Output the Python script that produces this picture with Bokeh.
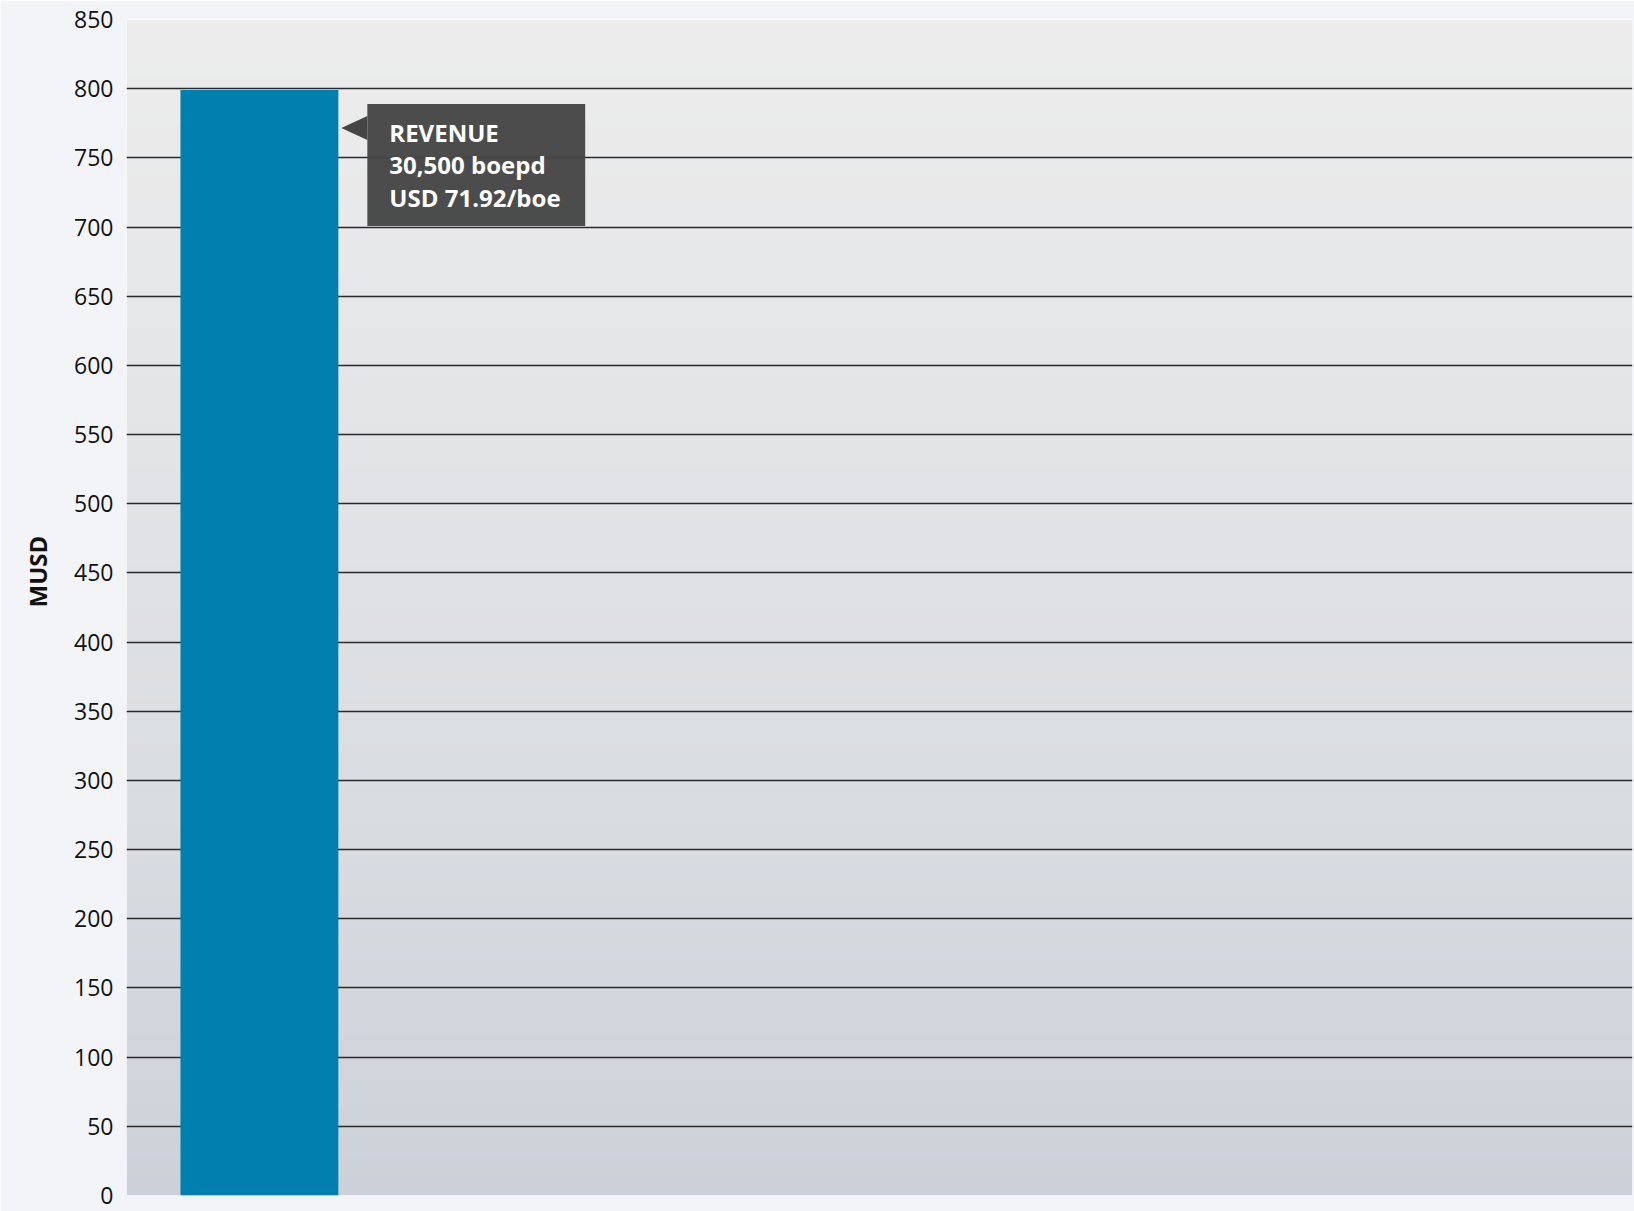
import numpy as np
from bokeh.plotting import figure
from bokeh.models import Range1d, SingleIntervalTicker, Title
from bokeh.core.properties import value
from bokeh.embed import file_html
from bokeh.resources import INLINE

# ---- data ----
categories = ["Revenue"]
values = [799]
annotation_lines = ["REVENUE", "30,500 boepd", "USD 71.92/boe"]
y_axis_label = "MUSD"
y_max = 850
y_step = 50

# ---- layout ----
W, H = 1634, 1211
BL, BR, BT, BB = 125, 2, 19, 16
frame_w = W - BL - BR
frame_h = H - BT - BB
bar_px = 158.0
left_gap_px = 54.0
x_start = -0.5 - left_gap_px / bar_px
x_end = x_start + frame_w / bar_px
px_x = bar_px            # px per x unit
px_y = frame_h / y_max   # px per y unit

p = figure(width=W, height=H, output_backend="svg", toolbar_location=None,
           x_range=Range1d(x_start, x_end), y_range=Range1d(0, y_max),
           min_border_left=BL, min_border_right=BR, min_border_top=BT, min_border_bottom=BB)

p.border_fill_color = "#f3f4f7"
p.outline_line_color = None
p.xaxis.visible = False
p.xgrid.visible = False

# background gradient of plot area
N = 256
img = np.empty((N, 1), dtype=np.uint32)
view = img.view(dtype=np.uint8).reshape((N, 1, 4))
top = np.array([0xED, 0xED, 0xED])
bot = np.array([0xCC, 0xD1, 0xD9])
for i in range(N):
    t = i / (N - 1)  # 0 bottom -> 1 top
    c = bot + (top - bot) * (t ** 0.8)
    view[i, 0, 0:3] = c.astype(np.uint8)
    view[i, 0, 3] = 255
p.image_rgba(image=[img], x=x_start, y=0, dw=x_end - x_start, dh=y_max, level="image")

# y axis
ax = p.yaxis[0]
ax.ticker = SingleIntervalTicker(interval=y_step)
ax.axis_line_color = None
ax.major_tick_line_color = None
ax.minor_tick_line_color = None
ax.major_label_standoff = 7
ax.major_label_text_font = "Open Sans"
ax.major_label_text_font_size = "23px"
ax.major_label_text_color = "#111111"

# axis title as a side title (allows shifting along the axis)
ytitle = Title(text=y_axis_label, align="left", offset=588, standoff=36,
               text_font="Open Sans", text_font_style="bold", text_font_size="24px",
               text_color="#111111")
p.add_layout(ytitle, "left")

p.ygrid.grid_line_color = "#2a2a2a"
p.ygrid.grid_line_width = 1.4
p.ygrid[0].ticker = SingleIntervalTicker(interval=y_step)

# bars
xs = list(range(len(categories)))
p.vbar(x=xs, top=values, width=1.0, bottom=0, fill_color="#0080AE", line_color=None)

# annotation box next to the first bar
bx_right = xs[0] + 0.5
v = values[0]
gap_px, tri_w_px, tri_half_px = 3, 26, 12
tip_x = bx_right + gap_px / px_x
base_x = tip_x + tri_w_px / px_x
tri_y = v - 38 / px_y
box_top = v - 14 / px_y
box_bot = box_top - 122 / px_y
box_right = base_x + 218 / px_x
p.quad(left=[base_x], right=[box_right], top=[box_top], bottom=[box_bot],
       fill_color="#454545", fill_alpha=0.96, line_color=None)
p.patch(x=[tip_x, base_x, base_x], y=[tri_y, tri_y + tri_half_px / px_y, tri_y - tri_half_px / px_y],
        fill_color="#454545", line_color=None)
p.text(x=[base_x + 22 / px_x], y=[box_top - 12 / px_y], text=["\n".join(annotation_lines)],
       text_font=value("Open Sans"), text_font_style="bold", text_font_size="24px",
       text_color="white", text_baseline="top", text_align="left", text_line_height=0.98)

open("out.html", "w").write(file_html(p, INLINE))
